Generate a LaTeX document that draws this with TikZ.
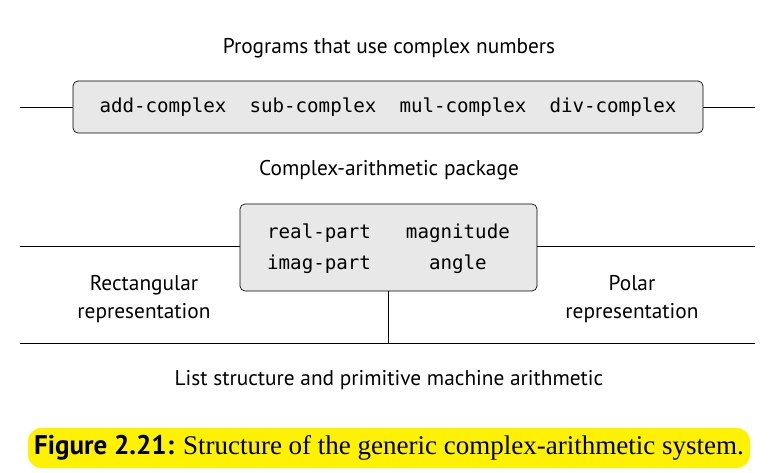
\documentclass[tikz,border=0pt]{standalone}
\usepackage{fontspec}
\setmainfont{Liberation Serif}
\setsansfont{PT Sans}
\setmonofont{DejaVu Sans Mono}
\usetikzlibrary{positioning}

\begin{document}
\begin{tikzpicture}[
  x=0.6pt, y=-0.6pt,
  lbl/.style={font=\sffamily\fontsize{12.8}{17}\selectfont,align=center,inner sep=0pt},
  fnbox/.style={rectangle,rounded corners=3pt,draw=black,thin,fill=black!9,
                font=\ttfamily\fontsize{11.5}{18.6}\selectfont,align=center,inner sep=0pt},
  layer/.style={thin,black},
]
\useasboundingbox (0,0) rectangle (779,473);

% ---- top level: programs ----
\node[lbl] (progtxt) at (389,48) {Programs that use complex numbers};
\node[fnbox,minimum width=630*0.6pt,minimum height=52*0.6pt] (progs) at (388,107)
  {add-complex\ \ sub-complex\ \ mul-complex\ \ div-complex};
\coordinate (pl) at (20,107);
\coordinate (pr) at (755,107);
\draw[layer] (pl) -- (progs.west);
\draw[layer] (progs.east) -- (pr);

% ---- complex-arithmetic package ----
\node[lbl] (pkgtxt) at (389,170) {Complex-arithmetic package};
\node[fnbox,minimum width=297*0.6pt,minimum height=87*0.6pt] (pkg) at (388.5,247.5)
  {\begin{tabular}{@{}l@{\hspace{21pt}}c@{}}real-part & magnitude\\imag-part & angle\end{tabular}};
\coordinate (kl) at (20,246);
\coordinate (kr) at (755,246);
\draw[layer] (kl) -- (kl -| pkg.west);
\draw[layer] (kr -| pkg.east) -- (kr);

% ---- two representations ----
\node[lbl] (rect) at (144,299) {Rectangular\\representation};
\node[lbl] (polar) at (632,299) {Polar\\representation};
\coordinate (bl) at (20,343);
\coordinate (br) at (755,343);
\coordinate (bm) at (388,343);
\draw[layer] (pkg.south -| bm) -- (bm);
\draw[layer] (bl) -- (br);

% ---- bottom level ----
\node[lbl] (prim) at (389,380) {List structure and primitive machine arithmetic};

% ---- caption ----
\node[fill=yellow,rounded corners=8pt,minimum width=722*0.6pt,minimum height=40*0.6pt,
      inner sep=0pt,font=\fontsize{16.2}{18}\selectfont] (cap) at (389,448)
  {\textsf{\bfseries Figure 2.21:} Structure of the generic complex-arithmetic system.};
\end{tikzpicture}
\end{document}
